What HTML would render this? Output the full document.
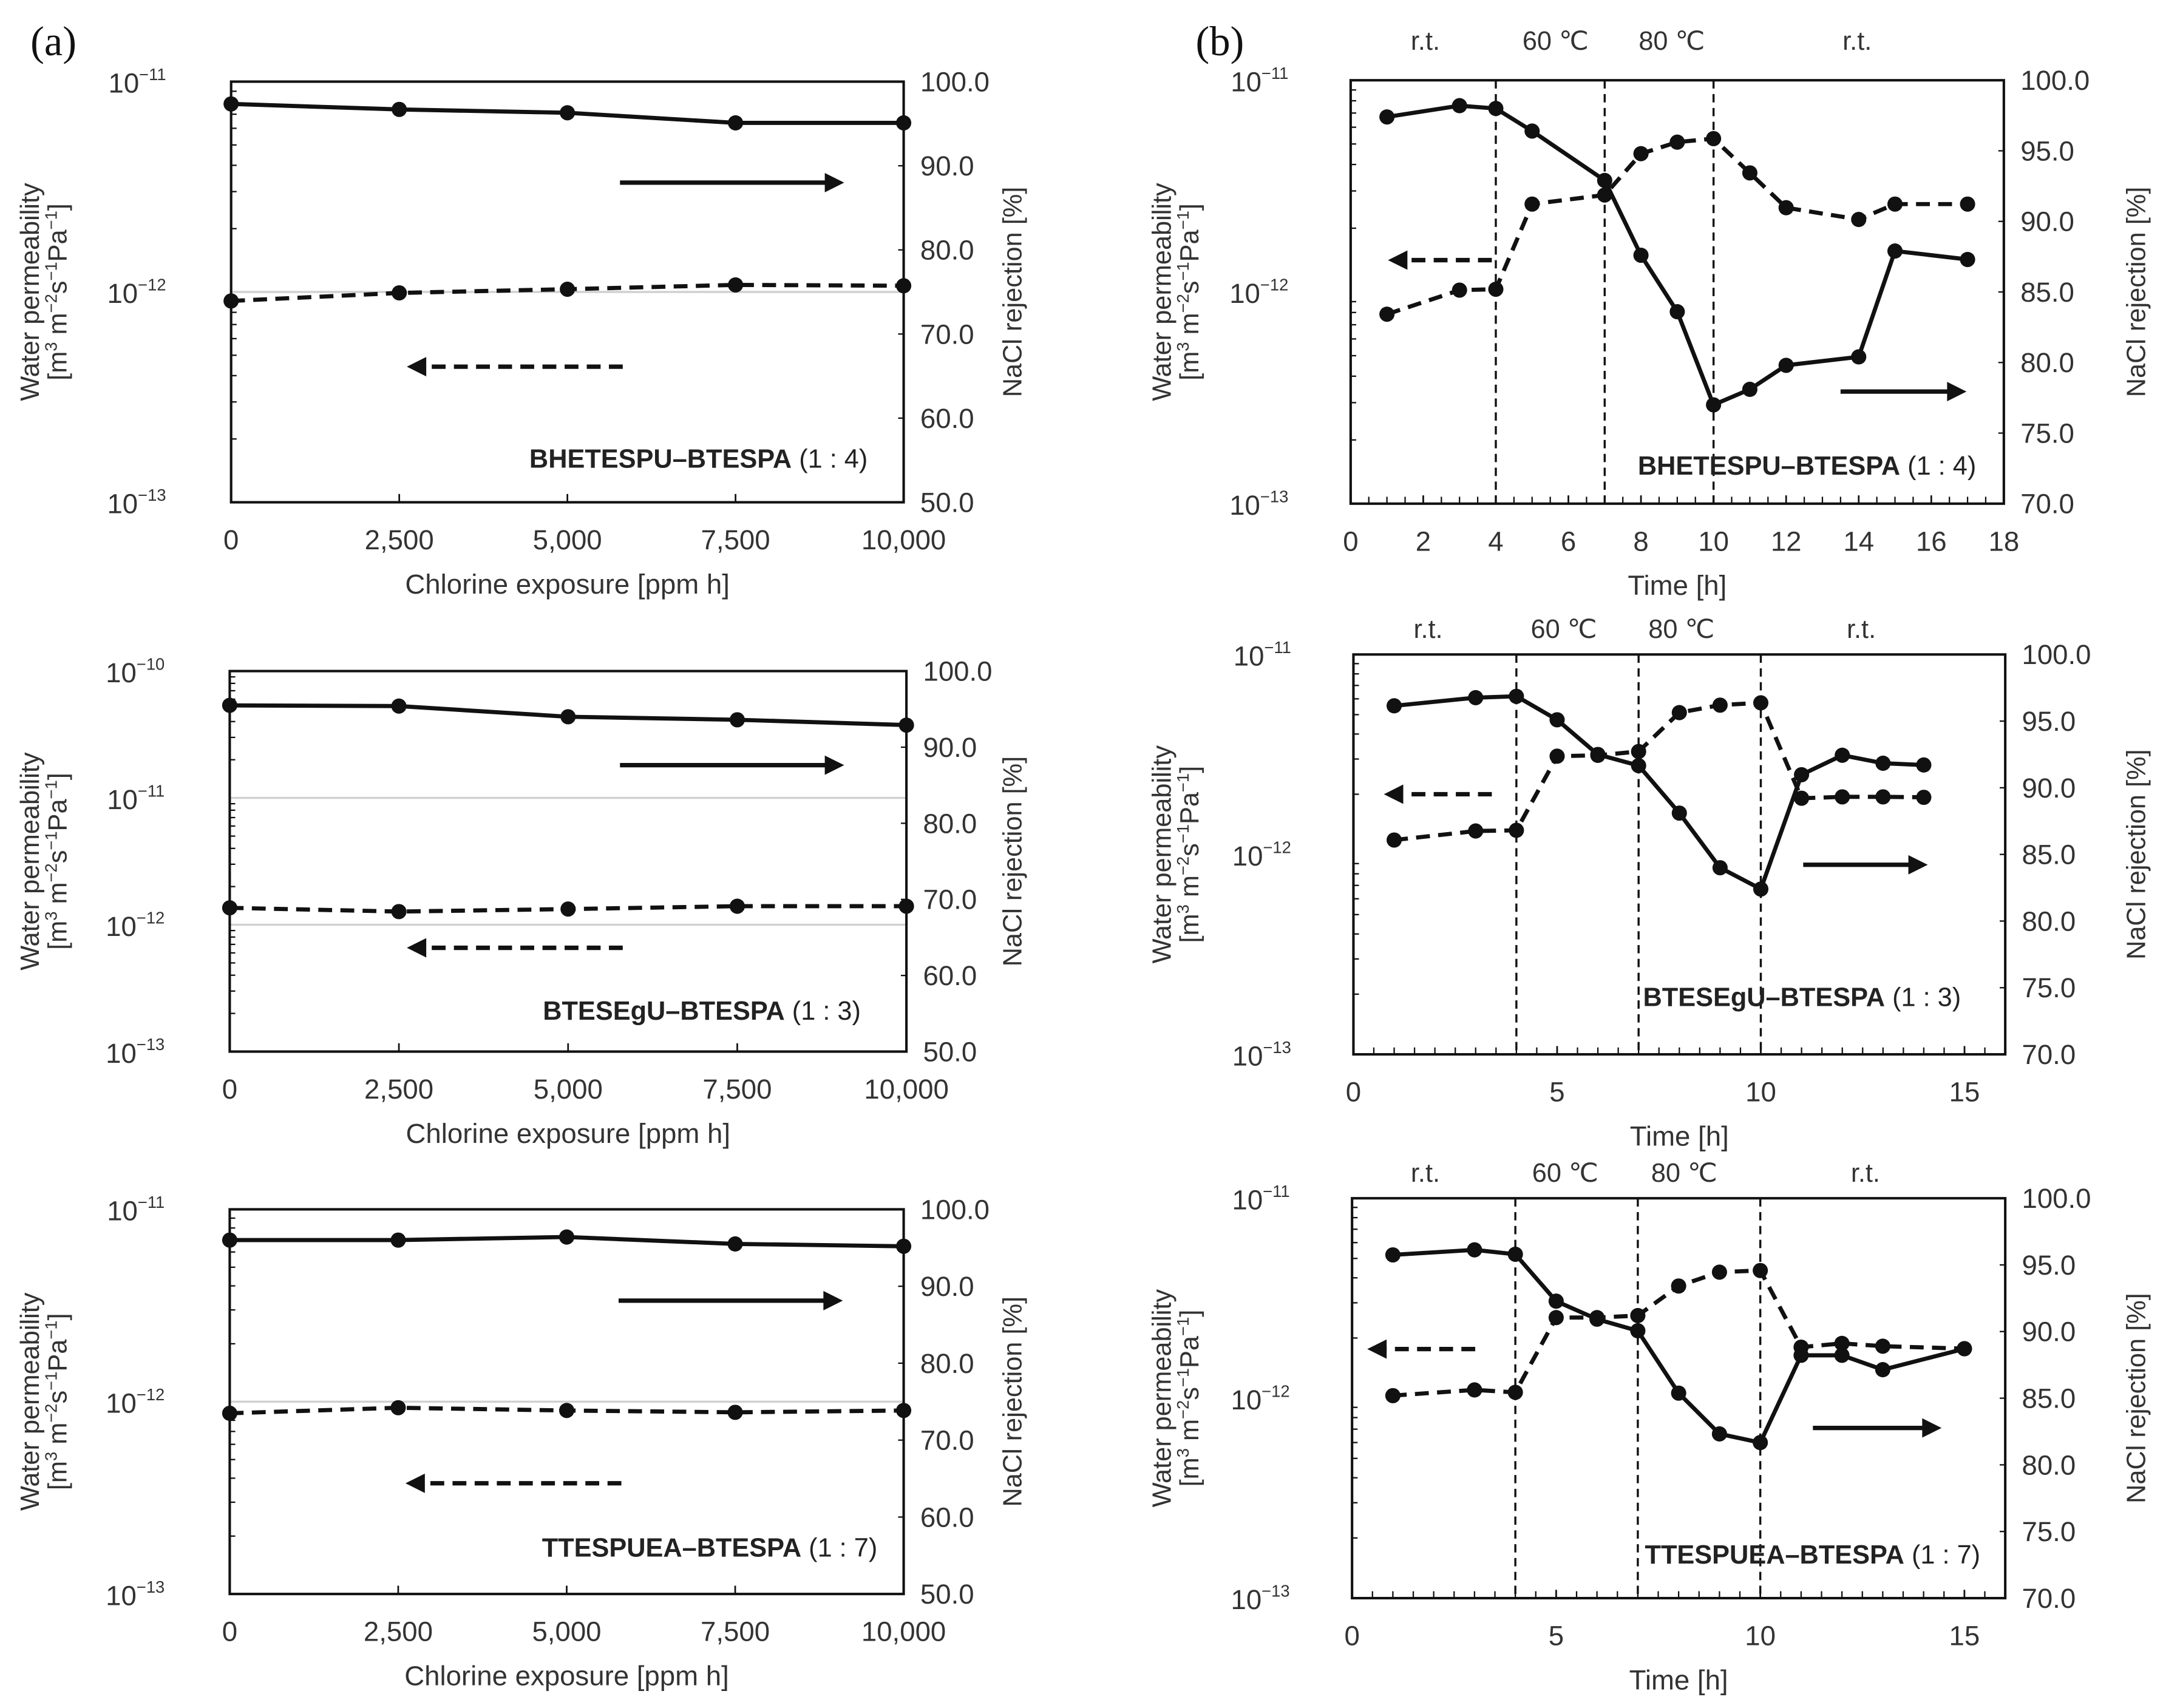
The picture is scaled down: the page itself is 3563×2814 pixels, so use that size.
<!DOCTYPE html>
<html><head><meta charset="utf-8"><style>
html,body{margin:0;padding:0;background:#fff;}
svg{display:block;}
text{font-family:"Liberation Sans",Arial,sans-serif;}
</style></head><body>
<svg id="fig" width="3563" height="2814" viewBox="0 0 1563 1234.4" preserveAspectRatio="none" xmlns="http://www.w3.org/2000/svg">
<rect width="1563" height="1234.4" fill="#fff"/>
<text x="22" y="40" font-size="30" fill="#111" style="font-family:'Liberation Serif',serif">(a)</text>
<text x="864" y="40" font-size="30" fill="#111" style="font-family:'Liberation Serif',serif">(b)</text>
</svg>
<script>
const aX=[0,2500,5000,7500,10000];
const a1Rej=[97.35,96.7,96.3,95.1,95.1];
const a1Perm=[0.906e-12,0.99e-12,1.03e-12,1.08e-12,1.07e-12];
const a2Rej=[95.5,95.4,94.0,93.6,92.9];
const a2Perm=[1.36e-12,1.27e-12,1.33e-12,1.4e-12,1.4e-12];
const a3Rej=[96.0,96.0,96.4,95.5,95.2];
const a3Perm=[0.87e-12,0.93e-12,0.9e-12,0.88e-12,0.9e-12];
const b1T=[1,3,4,5,7,8,9,10,11,12,14,15,17];
const b1Rej=[97.4,98.2,98.0,96.4,92.9,87.6,83.6,77.0,78.1,79.8,80.4,87.9,87.3];
const b1Perm=[0.785e-12,1.02e-12,1.03e-12,2.6e-12,2.87e-12,4.5e-12,5.1e-12,5.3e-12,3.65e-12,2.5e-12,2.2e-12,2.6e-12,2.6e-12];
const b2T=[1,3,4,5,6,7,8,9,10,11,12,13,14];
const b2Rej=[96.15,96.76,96.86,95.1,92.5,91.66,88.1,84.0,82.4,90.98,92.44,91.84,91.71];
const b2Perm=[1.18e-12,1.31e-12,1.32e-12,3.1e-12,3.13e-12,3.27e-12,5.12e-12,5.58e-12,5.73e-12,1.91e-12,1.94e-12,1.94e-12,1.93e-12];
const b3T=[1,3,4,5,6,7,8,9,10,11,12,13,15];
const b3Rej=[95.75,96.13,95.8,92.28,90.93,90.06,85.38,82.32,81.67,88.22,88.22,87.14,88.71];
const b3Perm=[1.03e-12,1.10e-12,1.07e-12,2.53e-12,2.53e-12,2.59e-12,3.64e-12,4.27e-12,4.35e-12,1.80e-12,1.88e-12,1.82e-12,1.77e-12];
const aXTicks=[0,2500,5000,7500,10000];
const aXTickLabels=["0","2,500","5,000","7,500","10,000"];
const aRTicks=[50,60,70,80,90,100];
const bRTicks=[70,75,80,85,90,95,100];
const b1XTicks=[0,2,4,6,8,10,12,14,16,18];
const b23XTicks=[0,5,10,15];
const bPhaseLines=[4,7,10];
const bPhaseLabels=["r.t.","60 ℃","80 ℃","r.t."];

const svg=document.getElementById('fig');
const NS='http://www.w3.org/2000/svg';
function mk(tag,attrs,parent){const e=document.createElementNS(NS,tag);for(const k in attrs)e.setAttribute(k,attrs[k]);(parent||svg).appendChild(e);return e;}

function panel(p){
  const g=mk('g',{});
  
  
  const sx=v=>p.x0+(v-p.xd[0])/(p.xd[1]-p.xd[0])*(p.x1-p.x0);
  const sl=v=>p.y1-(Math.log10(v)-p.ld[0])/(p.ld[1]-p.ld[0])*(p.y1-p.y0);
  const sr=v=>p.y1-(v-p.rd[0])/(p.rd[1]-p.rd[0])*(p.y1-p.y0);
  (p.gray||[]).forEach(d=>{const l=mk('line',{x1:p.x0,x2:p.x1,y1:sl(d),y2:sl(d),stroke:'#d0d0d0','stroke-width':1.5},g);
    
    });
  const fr=mk('rect',{x:p.x0,y:p.y0,width:p.x1-p.x0,height:p.y1-p.y0,fill:'none',stroke:'#111','stroke-width':1.8},g);
  
  
  for(let e=p.ld[0];e<=p.ld[1];e++){
    const y=sl(Math.pow(10,e));
    const t=mk('text',{x:p.x0-p.lo,y:y+8,'text-anchor':'end','font-size':20,fill:'#333'},g);
    
    
    t.appendChild(document.createTextNode('10'));
    const s=mk('tspan',{dy:-9,'font-size':12},t);s.textContent='−'+(-e);
    if(e<p.ld[1]) for(let m=2;m<=9;m++){const yy=sl(m*Math.pow(10,e));mk('line',{x1:p.x0,x2:p.x0+4,y1:yy,y2:yy,stroke:'#111','stroke-width':1},g);}
  }
  p.rt.forEach(v=>{const y=sr(v);
    mk('line',{x1:p.x1-4,x2:p.x1,y1:y,y2:y,stroke:'#111','stroke-width':1},g);
    const t=mk('text',{x:p.x1+12,y:y+7,'font-size':20,fill:'#333'},g);
    
    
    t.textContent=v.toFixed(1);});
  p.xt.forEach((v,i)=>{const x=sx(v);
    mk('line',{x1:x,x2:x,y1:p.y1,y2:p.y1-6,stroke:'#111','stroke-width':1.2},g);
    const t=mk('text',{x:x,y:p.y1+34,'text-anchor':'middle','font-size':20,fill:'#333'},g);
    
    
    t.textContent=p.xl?p.xl[i]:String(v);});
  if(p.minor){for(let v=p.xd[0];v<=p.xd[1];v+=p.minor){const x=sx(v);mk('line',{x1:x,x2:x,y1:p.y1,y2:p.y1-5,stroke:'#111','stroke-width':1},g);}}
  if(p.phase){
    p.phase.forEach(v=>{const l=mk('line',{x1:sx(v),x2:sx(v),y1:p.y0,y2:p.y1,stroke:'#111','stroke-width':1.5,'stroke-dasharray':'6,4'},g);
      
      });
    p.phaseX.forEach((x,i)=>{const t=mk('text',{x:x,y:p.hy,'text-anchor':'middle','font-size':19,fill:'#333'},g);
      
      
      t.textContent=bPhaseLabels[i];});
  }
  const cy=(p.y0+p.y1)/2;
  const lt=mk('text',{transform:`translate(${p.ltx},${cy}) rotate(-90)`,'text-anchor':'middle','font-size':19,fill:'#333'},g);
  
  
  const l1=mk('tspan',{x:0,dy:0},lt);l1.textContent='Water permeability';
  const l2=mk('tspan',{x:0,dy:20},lt);l2.textContent='[m';
  const s1=mk('tspan',{dy:-7,'font-size':12},lt);s1.textContent='3';
  const l3=mk('tspan',{dy:7},lt);l3.textContent=' m';
  const s2=mk('tspan',{dy:-7,'font-size':12},lt);s2.textContent='−2';
  const l4=mk('tspan',{dy:7},lt);l4.textContent='s';
  const s3=mk('tspan',{dy:-7,'font-size':12},lt);s3.textContent='−1';
  const l5=mk('tspan',{dy:7},lt);l5.textContent='Pa';
  const s4=mk('tspan',{dy:-7,'font-size':12},lt);s4.textContent='−1';
  const l6=mk('tspan',{dy:7},lt);l6.textContent=']';
  const rt=mk('text',{transform:`translate(${p.rtx},${cy}) rotate(-90)`,'text-anchor':'middle','font-size':19,fill:'#333'},g);
  
  
  rt.textContent='NaCl rejection [%]';
  const xt=mk('text',{x:(p.x0+p.x1)/2,y:p.y1+66,'text-anchor':'middle','font-size':20,fill:'#333'},g);
  
  
  xt.textContent=p.xtitle;
  function series(xs,ys,sy,dashed,nm){
    const pts=xs.map((x,i)=>sx(x).toFixed(1)+','+sy(ys[i]).toFixed(1)).join(' ');
    const pl=mk('polyline',{points:pts,fill:'none',stroke:'#111','stroke-width':3,'stroke-dasharray':dashed?'10,6':'none','stroke-linejoin':'round'},g);
    
    
    xs.forEach((x,i)=>{const c=mk('circle',{cx:sx(x),cy:sy(ys[i]),r:5.5,fill:'#111'},g);
      
      });
  }
  series(p.xs,p.perm,sl,true,'permeability');
  series(p.xs,p.rej,sr,false,'rejection');
  function arrow(x1,x2,y,dashed,nm){
    const dir=Math.sign(x2-x1);
    const l=mk('line',{x1:x1,x2:x2-dir*12,y1:y,y2:y,stroke:'#111','stroke-width':3.2,'stroke-dasharray':dashed?'10,6':'none'},g);
    
    
    mk('polygon',{points:`${x2},${y} ${x2-dir*14},${y-7} ${x2-dir*14},${y+7}`,fill:'#111'},g);
  }
  arrow(p.sa[0],p.sa[1],p.sa[2],false,'right-axis-arrow');
  arrow(p.da[0],p.da[1],p.da[2],true,'left-axis-arrow');
  const sl2=mk('text',{x:p.lab[0],y:p.lab[1],'text-anchor':'end','font-size':19,fill:'#222'},g);
  
  
  const b=mk('tspan',{'font-weight':'bold'},sl2);b.textContent=p.label;
  const n=mk('tspan',{},sl2);n.textContent=' '+p.ratio;
}

const common_a={xd:[0,10000],rd:[50,100],rt:aRTicks,xt:aXTicks,xl:aXTickLabels,xs:aX,xtitle:'Chlorine exposure [ppm h]',ltx:28,rtx:738,lo:47};
panel(Object.assign({},common_a,{name:'panel-a1',x0:167,x1:653,y0:59,y1:363,ld:[-13,-11],gray:[1e-12],rej:a1Rej,perm:a1Perm,sa:[448,610,132],da:[450,294,265],lab:[627,338],label:'BHETESPU–BTESPA',ratio:'(1 : 4)'}));
panel(Object.assign({},common_a,{name:'panel-a2',x0:166,x1:655,y0:485,y1:760,ld:[-13,-10],gray:[1e-11,1e-12],rej:a2Rej,perm:a2Perm,sa:[448,610,553],da:[450,294,685],lab:[622,737],label:'BTESEgU–BTESPA',ratio:'(1 : 3)'}));
panel(Object.assign({},common_a,{name:'panel-a3',x0:166,x1:653,y0:874,y1:1152,ld:[-13,-11],gray:[1e-12],rej:a3Rej,perm:a3Perm,sa:[447,609,940],da:[449,293,1072],lab:[634,1125],label:'TTESPUEA–BTESPA',ratio:'(1 : 7)'}));
const common_b={rd:[70,100],rt:bRTicks,xtitle:'Time [h]',ltx:846,rtx:1550,phase:bPhaseLines,minor:0.5,ld:[-13,-11],lo:45};
panel(Object.assign({},common_b,{name:'panel-b1',x0:976,x1:1448,y0:58,y1:364,xd:[0,18],xt:b1XTicks,xs:b1T,rej:b1Rej,perm:b1Perm,phaseX:[1030,1124,1208,1342],hy:36,sa:[1330,1421,283],da:[1078,1003,188],lab:[1428,343],label:'BHETESPU–BTESPA',ratio:'(1 : 4)'}));
panel(Object.assign({},common_b,{name:'panel-b2',x0:978,x1:1449,y0:473,y1:762,xd:[0,16],xt:b23XTicks,xs:b2T,rej:b2Rej,perm:b2Perm,phaseX:[1032,1130,1215,1345],hy:461,sa:[1303,1393,625],da:[1078,1000,574],lab:[1417,727],label:'BTESEgU–BTESPA',ratio:'(1 : 3)'}));
panel(Object.assign({},common_b,{name:'panel-b3',x0:977,x1:1449,y0:866,y1:1155,xd:[0,16],xt:b23XTicks,xs:b3T,rej:b3Rej,perm:b3Perm,phaseX:[1030,1131,1217,1348],hy:854,sa:[1310,1403,1032],da:[1066,988,975],lab:[1431,1130],label:'TTESPUEA–BTESPA',ratio:'(1 : 7)'}));
</script>
</body></html>
